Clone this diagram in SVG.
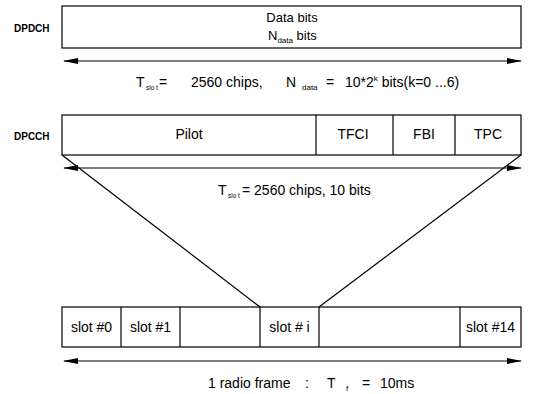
<svg xmlns="http://www.w3.org/2000/svg" width="537" height="394" viewBox="0 0 537 394">
<style>
text,tspan{font-family:"Liberation Sans",Arial,sans-serif;fill:#000}
.lbl{font-size:10px;font-weight:bold}
.t{font-size:14px}
.d{font-size:13px}
.c{text-anchor:middle}
.s{font-size:8px}
.ss{font-size:6.5px}
.box{fill:#fff;stroke:#000;stroke-width:1.2}
.ln{stroke:#000;stroke-width:1.2;fill:none}
</style>
<defs>
<marker id="ah" viewBox="0 0 15 6" refX="14" refY="3" markerWidth="15" markerHeight="6" markerUnits="userSpaceOnUse" orient="auto-start-reverse">
<path d="M0,0 L15,3 L0,6 Z" fill="#000"/>
</marker>
</defs>
<rect width="537" height="394" fill="#fff"/>
<g id="dpdch">
<text class="lbl" x="14" y="32">DPDCH</text>
<rect class="box" x="62" y="6" width="459" height="42"/>
<text class="d c" x="292" y="22">Data bits</text>
<text class="d" x="268" y="40">N<tspan class="s" dy="3">data</tspan><tspan dy="-3"> bits</tspan></text>
</g>
<g id="dpcch">
<text class="lbl" x="14" y="140">DPCCH</text>
<rect class="box" x="62" y="115" width="459" height="40"/>
<line class="ln" x1="316" y1="115" x2="316" y2="155"/>
<line class="ln" x1="393" y1="115" x2="393" y2="155"/>
<line class="ln" x1="455" y1="115" x2="455" y2="155"/>
<text class="t c" x="189" y="139">Pilot</text>
<text class="t c" x="353" y="139">TFCI</text>
<text class="t c" x="424" y="139">FBI</text>
<text class="t c" x="488" y="139">TPC</text>
</g>
<g id="slots">
<rect class="box" x="62" y="307" width="459" height="40"/>
<line class="ln" x1="121" y1="307" x2="121" y2="347"/>
<line class="ln" x1="180" y1="307" x2="180" y2="347"/>
<line class="ln" x1="260" y1="307" x2="260" y2="347"/>
<line class="ln" x1="319" y1="307" x2="319" y2="347"/>
<line class="ln" x1="460" y1="307" x2="460" y2="347"/>
<text class="t c" x="91.5" y="332">slot #0</text>
<text class="t c" x="150.5" y="332">slot #1</text>
<text class="t c" x="289.5" y="332">slot # i</text>
<text class="t c" x="490.5" y="332">slot #14</text>
</g>
<g id="connectors">
<line class="ln" x1="64" y1="61" x2="521" y2="61" marker-start="url(#ah)" marker-end="url(#ah)"/>
<line class="ln" x1="64" y1="168" x2="521" y2="168" marker-start="url(#ah)" marker-end="url(#ah)"/>
<line class="ln" x1="64" y1="361" x2="521" y2="361" marker-start="url(#ah)" marker-end="url(#ah)"/>
<line class="ln" x1="62" y1="155" x2="260" y2="307"/>
<line class="ln" x1="521" y1="155" x2="319" y2="307"/>
</g>
<g id="labels">
<text class="t" y="87"><tspan x="136">T</tspan><tspan class="ss" x="146" dy="3">slo t</tspan><tspan x="159" dy="-3">=</tspan><tspan x="191">2560 chips,</tspan><tspan x="286">N</tspan><tspan class="s" x="302" dy="3">data</tspan><tspan x="326" dy="-3">=</tspan><tspan x="345">10*2</tspan><tspan class="s" dy="-6">k</tspan><tspan dy="6"> bits(k=0 ...6)</tspan></text>
<text class="t" y="195"><tspan x="218">T</tspan><tspan class="ss" x="228" dy="3">slo t</tspan><tspan x="242" dy="-3">= 2560 chips, 10 bits</tspan></text>
<text class="t" y="388"><tspan x="208">1 radio frame</tspan><tspan x="305">:</tspan><tspan x="327">T</tspan><tspan class="s" x="346" dy="3">f</tspan><tspan x="362" dy="-3">=</tspan><tspan x="380">10ms</tspan></text>
</g>
</svg>
